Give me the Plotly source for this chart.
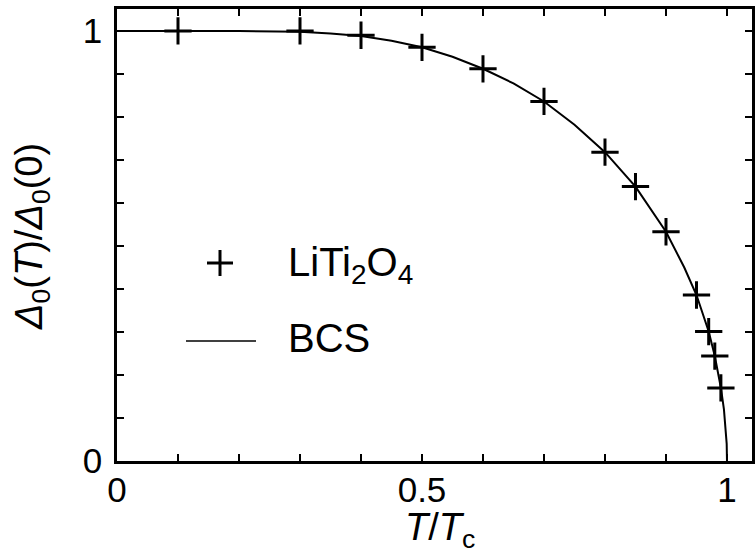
import plotly.graph_objects as go

# Measured points (LiTi2O4)
t_data = [0.1, 0.3, 0.4, 0.5, 0.6, 0.7, 0.8, 0.85, 0.9, 0.95, 0.97, 0.98, 0.99]
gap_data = [1.0, 1.0, 0.99, 0.962, 0.912, 0.836, 0.718, 0.638, 0.533, 0.386, 0.301, 0.244, 0.170]

# BCS curve
t_bcs = [0.0, 0.1, 0.2, 0.3, 0.35, 0.4, 0.45, 0.5, 0.55, 0.6, 0.65, 0.7, 0.75,
         0.8, 0.85, 0.9, 0.93, 0.95, 0.97, 0.98, 0.99, 0.995, 0.998, 0.9995, 1.0]
gap_bcs = [1.0, 1.0, 1.0, 0.998, 0.994, 0.988, 0.977, 0.962, 0.940, 0.912, 0.878,
           0.836, 0.782, 0.718, 0.638, 0.533, 0.450, 0.386, 0.301, 0.244, 0.170,
           0.120, 0.075, 0.040, 0.0]

x_tickvals = [0.0, 0.5, 1.0]
x_ticktext = ["0", "0.5", "1"]
y_tickvals = [0.0, 1.0]
y_ticktext = ["0", "1"]
minor_step = 0.1

legend_labels = ["LiTi<sub>2</sub>O<sub>4</sub>", "BCS"]
x_title = "<i>T</i>/<i>T</i><sub>c</sub>"
y_title = "<i>Δ</i><sub>0</sub>(<i>T</i>)/<i>Δ</i><sub>0</sub>(0)"

FONT = "Liberation Sans, Arial, Helvetica, sans-serif"

fig = go.Figure()
fig.add_trace(go.Scatter(
    x=t_bcs, y=gap_bcs, mode="lines", name="BCS",
    line=dict(color="black", width=2), showlegend=False,
))
fig.add_trace(go.Scatter(
    x=t_data, y=gap_data, mode="markers", name="LiTi2O4",
    marker=dict(symbol="cross-thin", size=19.5, color="black",
                line=dict(color="black", width=3)),
    showlegend=False,
))

# Layout geometry (pixels) used to place the hand-made legend and titles
L, R, T, B = 117, 4, 9, 92
W, H = 756, 553
pw, ph = W - L - R, H - T - B

def px(x):
    return (x - L) / pw

def py(y):
    return (H - B - y) / ph

shapes = [
    dict(type="line", xref="paper", yref="paper", x0=px(207), x1=px(233), y0=py(263), y1=py(263),
         line=dict(color="black", width=3)),
    dict(type="line", xref="paper", yref="paper", x0=px(220), x1=px(220), y0=py(250), y1=py(276),
         line=dict(color="black", width=3)),
    dict(type="line", xref="paper", yref="paper", x0=px(186), x1=px(256), y0=py(341), y1=py(341),
         line=dict(color="black", width=1.5)),
]
annotations = [
    dict(text=legend_labels[0], xref="paper", yref="paper", x=px(286), y=py(265),
         xanchor="left", yanchor="middle", showarrow=False,
         font=dict(family=FONT, size=40, color="black")),
    dict(text=legend_labels[1], xref="paper", yref="paper", x=px(286), y=py(338),
         xanchor="left", yanchor="middle", showarrow=False,
         font=dict(family=FONT, size=40, color="black")),
    dict(text=x_title, xref="paper", yref="paper", x=px(440), y=py(530),
         xanchor="center", yanchor="middle", showarrow=False,
         font=dict(family=FONT, size=38, color="black")),
    dict(text=y_title, xref="paper", yref="paper", x=px(32), y=py(236),
         xanchor="center", yanchor="middle", showarrow=False, textangle=-90,
         font=dict(family=FONT, size=38, color="black")),
]

axis_common = dict(
    showgrid=False, zeroline=False, showline=True, linecolor="black", linewidth=2.5,
    mirror="ticks", ticks="inside", ticklen=7, tickwidth=2, tickcolor="black",
    tickfont=dict(family=FONT, size=35, color="black"),
    minor=dict(ticks="inside", ticklen=7, tickwidth=2, tickcolor="black",
               dtick=minor_step, tick0=0, showgrid=False),
    automargin=False,
)

fig.update_layout(
    width=W, height=H,
    margin=dict(l=L, r=R, t=T, b=B),
    paper_bgcolor="white", plot_bgcolor="white",
    font=dict(family=FONT, color="black"),
    shapes=shapes, annotations=annotations,
    xaxis=dict(range=[0, 1.041], tickmode="array", tickvals=x_tickvals, ticktext=x_ticktext,
               ticklabelstandoff=-4, **axis_common),
    yaxis=dict(range=[0, 1.051], tickmode="array", tickvals=y_tickvals, ticktext=y_ticktext,
               ticklabelstandoff=5, **axis_common),
)

fig.write_html("out.html")
